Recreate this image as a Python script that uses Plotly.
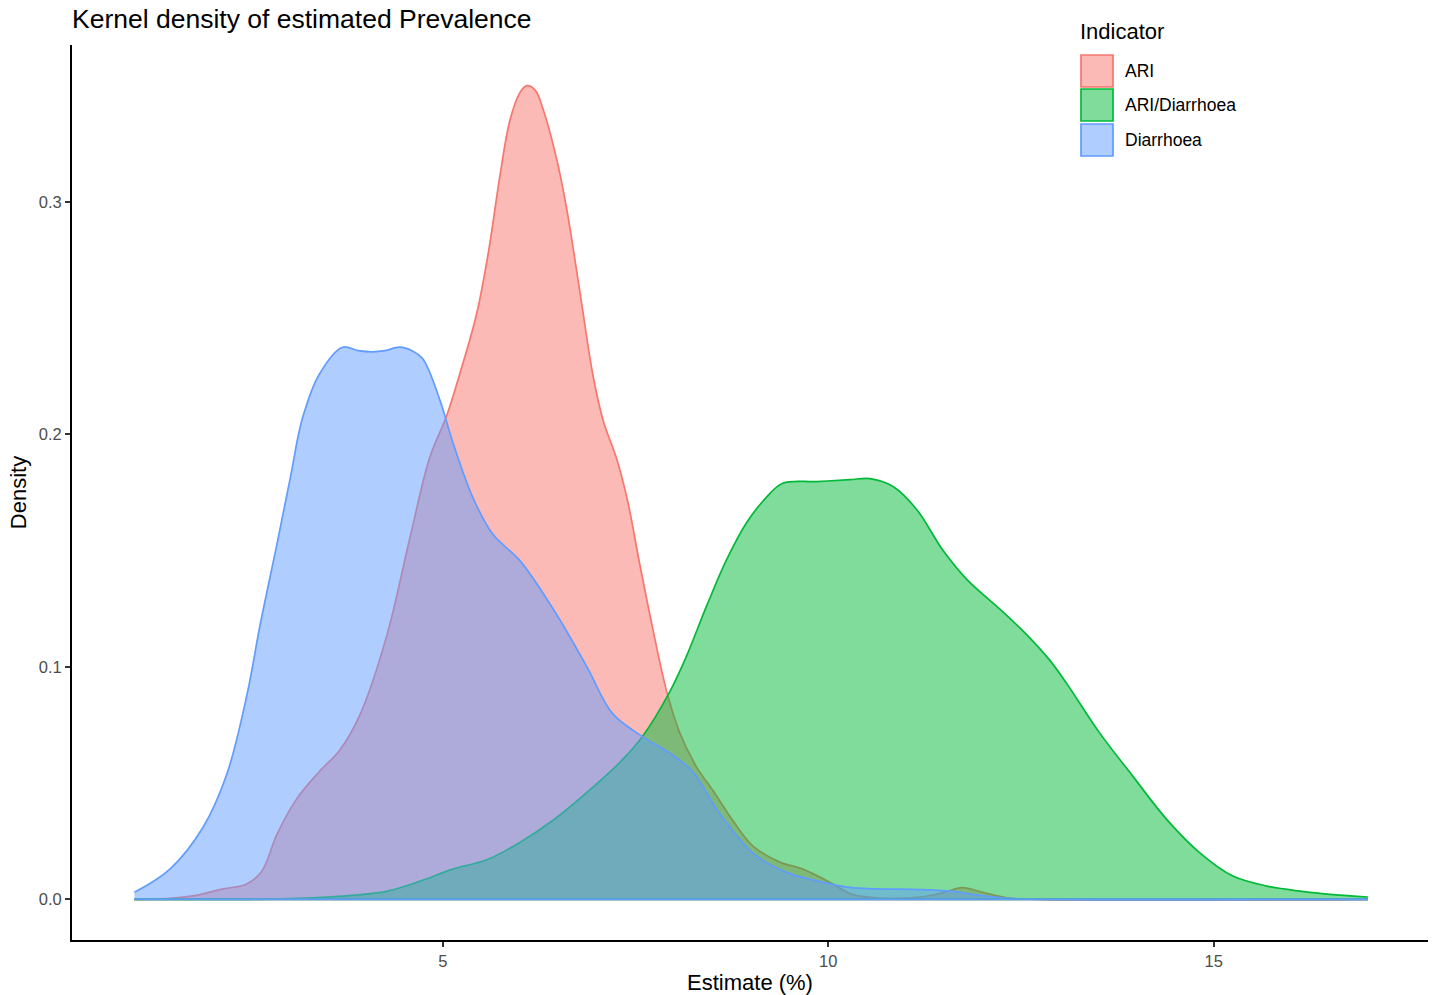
import plotly.graph_objects as go

# ---------------- data ----------------
ari_x = [1.0, 1.5, 1.8, 2.15, 2.45, 2.65, 2.85, 3.1, 3.4, 3.66, 3.92, 4.27, 4.57, 4.83,
         5.05, 5.22, 5.44, 5.6, 5.74, 5.87, 6.0, 6.09, 6.2, 6.3, 6.48, 6.61, 6.78, 6.95,
         7.08, 7.26, 7.4, 7.55, 7.72, 7.9, 8.07, 8.29, 8.5, 8.76, 9.02, 9.37, 9.67, 10.02,
         10.32, 10.7, 11.2, 11.5, 11.74, 12.0, 12.35, 12.8, 17.0]
ari_y = [0.0, 0.0005, 0.0017, 0.0045, 0.0065, 0.012, 0.028, 0.043, 0.055, 0.064, 0.079,
         0.113, 0.155, 0.19, 0.208, 0.226, 0.252, 0.28, 0.311, 0.335, 0.347, 0.350, 0.348,
         0.34, 0.318, 0.2965, 0.261, 0.225, 0.206, 0.189, 0.171, 0.145, 0.117, 0.090, 0.072,
         0.057, 0.047, 0.034, 0.023, 0.016, 0.013, 0.0073, 0.002, 0.0005, 0.001, 0.003,
         0.005, 0.003, 0.0005, 0.0, 0.0]

combo_x = [1.0, 2.5, 3.0, 3.5, 3.83, 4.27, 4.7, 5.13, 5.57, 6.0, 6.43, 6.87, 7.3, 7.59,
           7.94, 8.16, 8.42, 8.68, 8.94, 9.2, 9.41, 9.85, 10.28, 10.54, 10.84, 11.15, 11.49,
           11.8, 12.22, 12.57, 12.87, 13.09, 13.52, 13.95, 14.39, 14.82, 15.25, 15.69,
           16.12, 16.55, 17.0]
combo_y = [0.0, 0.0, 0.0003, 0.001, 0.0017, 0.0034, 0.0077, 0.013, 0.017, 0.0245, 0.034,
           0.046, 0.059, 0.070, 0.089, 0.1045, 0.126, 0.146, 0.162, 0.173, 0.179, 0.1797,
           0.1805, 0.181, 0.1776, 0.1676, 0.150, 0.1375, 0.125, 0.114, 0.103, 0.093, 0.0716,
           0.053, 0.0344, 0.020, 0.010, 0.0057, 0.0035, 0.002, 0.001]

diar_x = [1.0, 1.46, 1.89, 2.2, 2.46, 2.63, 2.85, 3.02, 3.18, 3.4, 3.7, 3.9, 4.09, 4.25,
          4.44, 4.6, 4.74, 4.96, 5.13, 5.39, 5.65, 6.0, 6.43, 6.87, 7.2, 7.59, 7.94, 8.24,
          8.59, 9.02, 9.46, 9.89, 10.3, 11.19, 11.6, 11.9, 12.3, 12.7, 17.0]
diar_y = [0.003, 0.013, 0.031, 0.054, 0.088, 0.118, 0.153, 0.181, 0.207, 0.226, 0.2375,
          0.236, 0.2355, 0.236, 0.2375, 0.236, 0.2325, 0.215, 0.1966, 0.1728, 0.157, 0.1457,
          0.125, 0.100, 0.080, 0.070, 0.063, 0.055, 0.037, 0.020, 0.0116, 0.0077, 0.005,
          0.0042, 0.0035, 0.002, 0.0005, 0.0, 0.0]

indicators = ["ARI", "ARI/Diarrhoea", "Diarrhoea"]
line_colors = ["#F8766D", "#00BA38", "#619CFF"]
fill_colors = ["rgba(248,118,109,0.5)", "rgba(0,186,56,0.5)", "rgba(97,156,255,0.5)"]
x_ticks = [5, 10, 15]
y_ticks = [0.0, 0.1, 0.2, 0.3]

series = [(ari_x, ari_y), (combo_x, combo_y), (diar_x, diar_y)]

FONT = "Liberation Sans, Arial, sans-serif"

fig = go.Figure()
for name, (xs, ys), lc, fc in zip(indicators, series, line_colors, fill_colors):
    fig.add_trace(go.Scatter(
        x=xs, y=ys, name=name, mode="lines",
        line=dict(color=lc, width=1.7, shape="spline", smoothing=1.0),
        fill="tozeroy", fillcolor=fc, showlegend=False,
    ))

# bottom edge of each density polygon (drawn in series order, last one on top)
for (xs, ys), lc in zip(series, line_colors):
    fig.add_shape(type="line", xref="x", yref="y", x0=xs[0], x1=xs[-1], y0=0, y1=0,
                  layer="above", line=dict(color=lc, width=2))

W, H = 1436, 995
ML, MR, MT, MB = 72, 8, 45, 55


def px_x(px):
    return (px - ML) / (W - ML - MR)


def px_y(py):
    return (H - MB - py) / (H - MT - MB)


# manual legend (ggplot-style square keys)
fig.add_annotation(x=px_x(1078), y=px_y(32), xref="paper", yref="paper", text="Indicator",
                   showarrow=False, xanchor="left", yanchor="middle",
                   font=dict(family=FONT, size=22, color="black"))
key_tops = [55, 89, 124]
for name, lc, fc, top in zip(indicators, line_colors, fill_colors, key_tops):
    fig.add_shape(type="rect", xref="paper", yref="paper",
                  x0=px_x(1081), x1=px_x(1113), y0=px_y(top), y1=px_y(top + 32),
                  fillcolor=fc, line=dict(color=lc, width=1.7))
    fig.add_annotation(x=px_x(1123), y=px_y(top + 16), xref="paper", yref="paper",
                       text=name, showarrow=False, xanchor="left", yanchor="middle",
                       font=dict(family=FONT, size=17.5, color="black"))

fig.update_layout(
    width=W, height=H, autosize=False,
    margin=dict(l=ML, r=MR, t=MT, b=MB),
    plot_bgcolor="white", paper_bgcolor="white",
    title=dict(text="Kernel density of estimated Prevalence", x=ML / W, xref="container",
               xanchor="left", y=1 - 19 / H, yref="container", yanchor="middle",
               font=dict(family=FONT, size=26.5, color="black")),
    font=dict(family=FONT),
    showlegend=False,
)
fig.update_xaxes(
    range=[0.19, 17.78], tickvals=x_ticks, ticktext=[str(v) for v in x_ticks],
    automargin=False,
    showgrid=False, zeroline=False, showline=True, linecolor="black", linewidth=2,
    ticks="outside", ticklen=5, tickwidth=1.5, tickcolor="#333333",
    tickfont=dict(family=FONT, size=16.5, color="#4D4D4D"),
    title=dict(text="Estimate (%)", font=dict(family=FONT, size=22, color="black"), standoff=8),
)
fig.update_yaxes(
    range=[-0.0175, 0.3675], tickvals=y_ticks, ticktext=[f"{v:.1f}" for v in y_ticks],
    automargin=False,
    showgrid=False, zeroline=False, showline=True, linecolor="black", linewidth=2,
    ticks="outside", ticklen=5, tickwidth=1.5, tickcolor="#333333",
    tickfont=dict(family=FONT, size=16.5, color="#4D4D4D"),
    title=dict(text="Density", font=dict(family=FONT, size=22, color="black"), standoff=6),
)

fig.write_html("out.html")
